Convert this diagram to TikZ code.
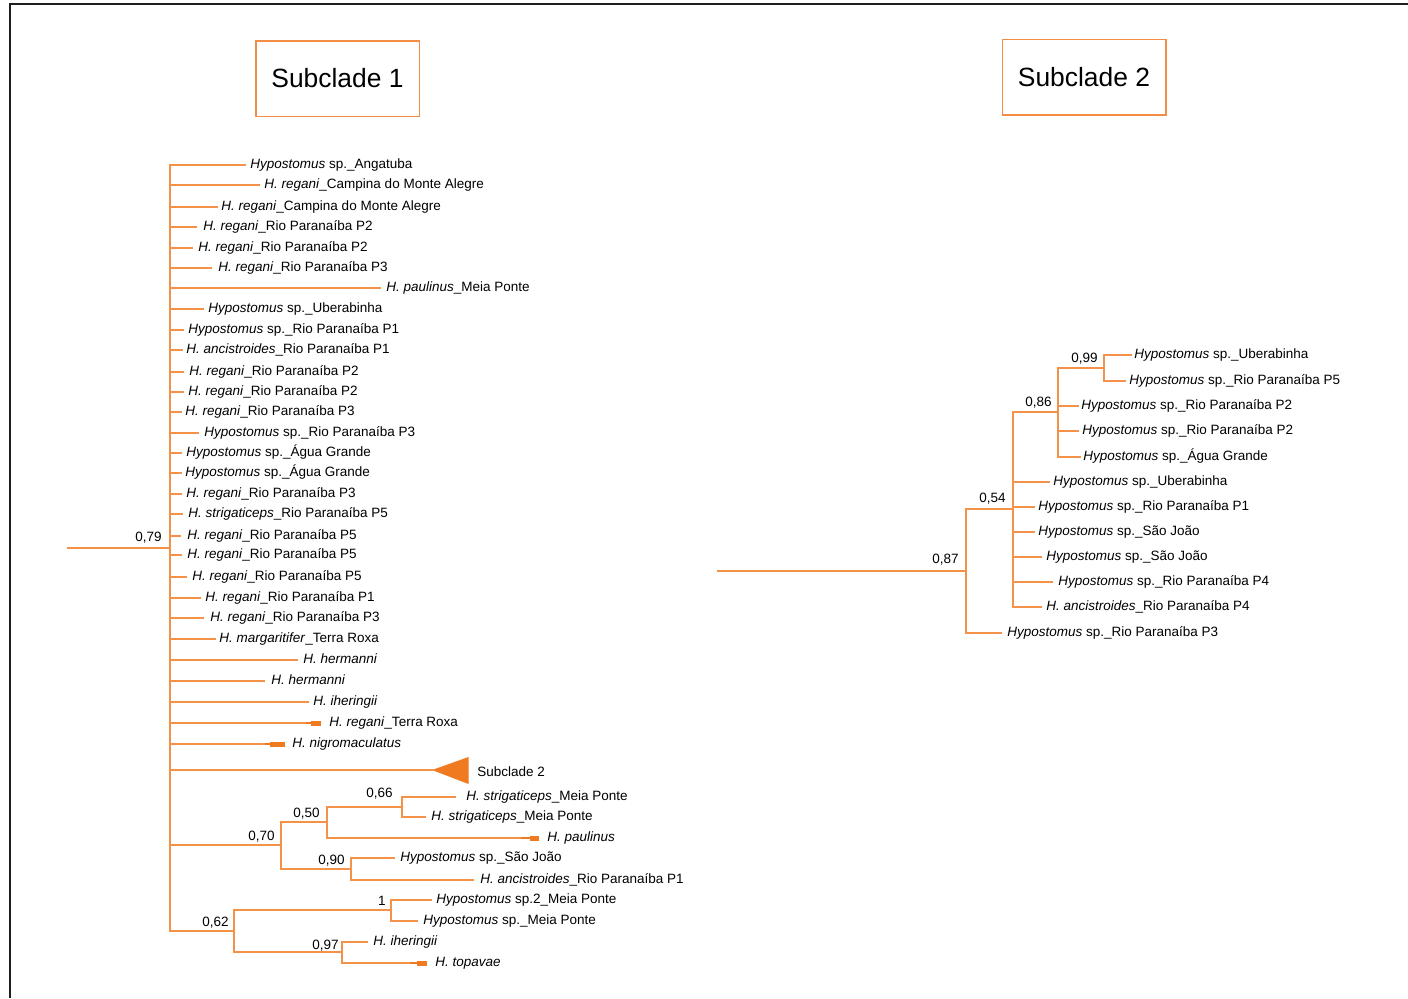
\documentclass[tikz,border=0pt]{standalone}
\usepackage{fontspec}
\setmainfont{Liberation Sans}
\definecolor{branchor}{RGB}{243,146,72}
\definecolor{solidor}{RGB}{240,122,32}
\definecolor{boxor}{RGB}{242,140,70}
\definecolor{framegray}{RGB}{30,30,30}
\begin{document}
\begin{tikzpicture}[x=0.5pt,y=-0.5pt,
  branch/.style={draw=branchor,line width=0.75pt,line cap=rect},
  rbranch/.style={draw=branchor,line width=1.15pt,line cap=rect},
  taxon/.style={anchor=base west,inner sep=0pt,font=\fontsize{6.75pt}{8pt}\selectfont},
  support/.style={anchor=base east,inner sep=0pt,font=\fontsize{6.75pt}{8pt}\selectfont},
  titlebox/.style={draw=boxor,line width=0.75pt,minimum width=81.75pt,minimum height=37.75pt,
    inner sep=0pt,font=\fontsize{13.2pt}{15pt}\selectfont}]
\useasboundingbox (0,0) rectangle (1408,998);

% outer frame
\draw[framegray,line width=1pt] (10,998) -- (10,4) -- (1408,4);

% headings
\node[titlebox] (head1) at (337.5,78.5) {Subclade 1};
\node[titlebox] (head2) at (1084,77) {Subclade 2};

% ---------------- Subclade 1 tree ----------------
\coordinate (root1) at (68,548);
\coordinate (n79) at (170,548);
\coordinate (n70) at (281,845);
\coordinate (n50) at (327,822);
\coordinate (n66) at (402,807);
\coordinate (n90) at (351,869);
\coordinate (n62) at (234,931);
\coordinate (n1) at (391,910);
\coordinate (n97) at (342,952);

\draw[branch] (root1) -- (n79);
\draw[branch] (n79 |- 0,165) -- (n79 |- n62);

\foreach \tx/\ty/\lx/\txt [count=\i] in {
  245/165/250/{\textit{Hypostomus} sp.\_Angatuba},
  259/185/264/{\textit{H. regani}\_Campina do Monte Alegre},
  217/207/221/{\textit{H. regani}\_Campina do Monte Alegre},
  196/227/203/{\textit{H. regani}\_Rio Paranaíba P2},
  192/248/198/{\textit{H. regani}\_Rio Paranaíba P2},
  211/268/218/{\textit{H. regani}\_Rio Paranaíba P3},
  380/288/386/{\textit{H. paulinus}\_Meia Ponte},
  203/309/208/{\textit{Hypostomus} sp.\_Uberabinha},
  183/330/188/{\textit{Hypostomus} sp.\_Rio Paranaíba P1},
  182/350/186/{\textit{H. ancistroides}\_Rio Paranaíba P1},
  183/372/189/{\textit{H. regani}\_Rio Paranaíba P2},
  183/392/188/{\textit{H. regani}\_Rio Paranaíba P2},
  181/412/185/{\textit{H. regani}\_Rio Paranaíba P3},
  198/433/204/{\textit{Hypostomus} sp.\_Rio Paranaíba P3},
  181/453/186/{\textit{Hypostomus} sp.\_Água Grande},
  181/473/185/{\textit{Hypostomus} sp.\_Água Grande},
  181/494/186/{\textit{H. regani}\_Rio Paranaíba P3},
  182/514/188/{\textit{H. strigaticeps}\_Rio Paranaíba P5},
  180/536/187/{\textit{H. regani}\_Rio Paranaíba P5},
  181/555/187/{\textit{H. regani}\_Rio Paranaíba P5},
  186/577/192/{\textit{H. regani}\_Rio Paranaíba P5},
  200/598/205/{\textit{H. regani}\_Rio Paranaíba P1},
  203/618/210/{\textit{H. regani}\_Rio Paranaíba P3},
  215/639/219/{\textit{H. margaritifer}\_Terra Roxa},
  297/660/303/{\textit{H. hermanni}},
  264/681/271/{\textit{H. hermanni}},
  308/702/313/{\textit{H. iheringii}},
  306/723/329/{\textit{H. regani}\_Terra Roxa},
  265/744/292/{\textit{H. nigromaculatus}}
}{
  \coordinate (a\i) at (\tx,\ty);
  \draw[branch] (n79 |- a\i) -- (a\i);
  \node[taxon] (ta\i) at (\lx,\ty+3.5) {\txt};
}

% collapsed clades drawn as short bars
\fill[solidor] (306,721.6) rectangle (311,724.4);
\fill[solidor] (311,720.5) rectangle (321,725.5);
\fill[solidor] (265,742.6) rectangle (270,745.4);
\fill[solidor] (270,741.5) rectangle (285,746.5);

% collapsed Subclade 2
\coordinate (sc2) at (432,770);
\draw[branch] (n79 |- sc2) -- (sc2);
\fill[solidor] (sc2) -- (468.5,757) -- (468.5,784) -- cycle;
\node[taxon] (tsc2) at (477,776) {Subclade 2};

% clade 0,70
\draw[branch] (n79 |- n70) -- (n70);
\draw[branch] (n70 |- n50) -- (n70 |- n90);
\draw[branch] (n70 |- n50) -- (n50);
\draw[branch] (n70 |- n90) -- (n90);
\draw[branch] (n50 |- n66) -- (n50 |- 0,838);
\draw[branch] (n50 |- n66) -- (n66);
\draw[branch] (n66 |- 0,797) -- (n66 |- 0,817);

\coordinate (b1) at (455,797);
\coordinate (b2) at (425,817);
\coordinate (b3) at (521,838);
\coordinate (b4) at (394,858);
\coordinate (b5) at (473,880);
\draw[branch] (n66 |- b1) -- (b1);
\draw[branch] (n66 |- b2) -- (b2);
\draw[branch] (n50 |- b3) -- (b3);
\fill[solidor] (521,836.6) rectangle (530,839.4);
\fill[solidor] (530,835.5) rectangle (539,840.5);
\draw[branch] (n90 |- b4) -- (n90 |- b5);
\draw[branch] (n90 |- b4) -- (b4);
\draw[branch] (n90 |- b5) -- (b5);

\node[taxon] (tb1) at (466,800.5) {\textit{H. strigaticeps}\_Meia Ponte};
\node[taxon] (tb2) at (431,820.5) {\textit{H. strigaticeps}\_Meia Ponte};
\node[taxon] (tb3) at (547,841.5) {\textit{H. paulinus}};
\node[taxon] (tb4) at (400,861.5) {\textit{Hypostomus} sp.\_São João};
\node[taxon] (tb5) at (480,883.5) {\textit{H. ancistroides}\_Rio Paranaíba P1};

% clade 0,62
\draw[branch] (n79 |- n62) -- (n62);
\draw[branch] (n62 |- n1) -- (n62 |- n97);
\draw[branch] (n62 |- n1) -- (n1);
\draw[branch] (n62 |- n97) -- (n97);

\coordinate (c1) at (431,900);
\coordinate (c2) at (417,921);
\coordinate (c3) at (367,942);
\coordinate (c4) at (410,963);
\draw[branch] (n1 |- c1) -- (n1 |- c2);
\draw[branch] (n1 |- c1) -- (c1);
\draw[branch] (n1 |- c2) -- (c2);
\draw[branch] (n97 |- c3) -- (n97 |- c4);
\draw[branch] (n97 |- c3) -- (c3);
\draw[branch] (n97 |- c4) -- (c4);
\fill[solidor] (410,961.6) rectangle (417,964.4);
\fill[solidor] (417,960.5) rectangle (427,965.5);

\node[taxon] (tc1) at (436,903.5) {\textit{Hypostomus} sp.2\_Meia Ponte};
\node[taxon] (tc2) at (423,924.5) {\textit{Hypostomus} sp.\_Meia Ponte};
\node[taxon] (tc3) at (373,945.5) {\textit{H. iheringii}};
\node[taxon] (tc4) at (435,966.5) {\textit{H. topavae}};

% support values
\node[support] (s79) at (162,541) {0,79};
\node[support] (s66) at (393,797) {0,66};
\node[support] (s50) at (320,817) {0,50};
\node[support] (s70) at (275,840) {0,70};
\node[support] (s90) at (345,864) {0,90};
\node[support] (s1)  at (386,905) {1};
\node[support] (s62) at (229,926) {0,62};
\node[support] (s97) at (339,949) {0,97};

% ---------------- Subclade 2 tree ----------------
\coordinate (root2) at (718,571);
\coordinate (r87) at (966,571);
\coordinate (r54) at (1013,509);
\coordinate (r86) at (1058,412);
\coordinate (r99) at (1104,368);

\draw[rbranch] (root2) -- (r87);
\draw[rbranch] (r87 |- r54) -- (r87 |- 0,633);
\draw[rbranch] (r87 |- r54) -- (r54);
\draw[rbranch] (r54 |- r86) -- (r54 |- 0,607);
\draw[rbranch] (r54 |- r86) -- (r86);
\draw[rbranch] (r86 |- r99) -- (r86 |- 0,457);
\draw[rbranch] (r86 |- r99) -- (r99);
\draw[rbranch] (r99 |- 0,355) -- (r99 |- 0,381);

\foreach \tx/\ty/\lx/\pnode/\txt [count=\i] in {
  1131/355/1134/r99/{\textit{Hypostomus} sp.\_Uberabinha},
  1125/381/1129/r99/{\textit{Hypostomus} sp.\_Rio Paranaíba P5},
  1078/406/1081/r86/{\textit{Hypostomus} sp.\_Rio Paranaíba P2},
  1078/431/1082/r86/{\textit{Hypostomus} sp.\_Rio Paranaíba P2},
  1080/457/1083/r86/{\textit{Hypostomus} sp.\_Água Grande},
  1049/482/1053/r54/{\textit{Hypostomus} sp.\_Uberabinha},
  1034/507/1038/r54/{\textit{Hypostomus} sp.\_Rio Paranaíba P1},
  1034/532/1038/r54/{\textit{Hypostomus} sp.\_São João},
  1041/557/1046/r54/{\textit{Hypostomus} sp.\_São João},
  1052/582/1058/r54/{\textit{Hypostomus} sp.\_Rio Paranaíba P4},
  1041/607/1046/r54/{\textit{H. ancistroides}\_Rio Paranaíba P4},
  1001/633/1007/r87/{\textit{Hypostomus} sp.\_Rio Paranaíba P3}
}{
  \coordinate (d\i) at (\tx,\ty);
  \draw[rbranch] (\pnode |- d\i) -- (d\i);
  \node[taxon] (td\i) at (\lx,\ty+3.5) {\txt};
}

\node[support] (s87) at (959,563) {0,87};
\node[support] (s54) at (1006,502) {0,54};
\node[support] (s86) at (1052,406) {0,86};
\node[support] (s99) at (1098,362) {0,99};
\end{tikzpicture}
\end{document}
